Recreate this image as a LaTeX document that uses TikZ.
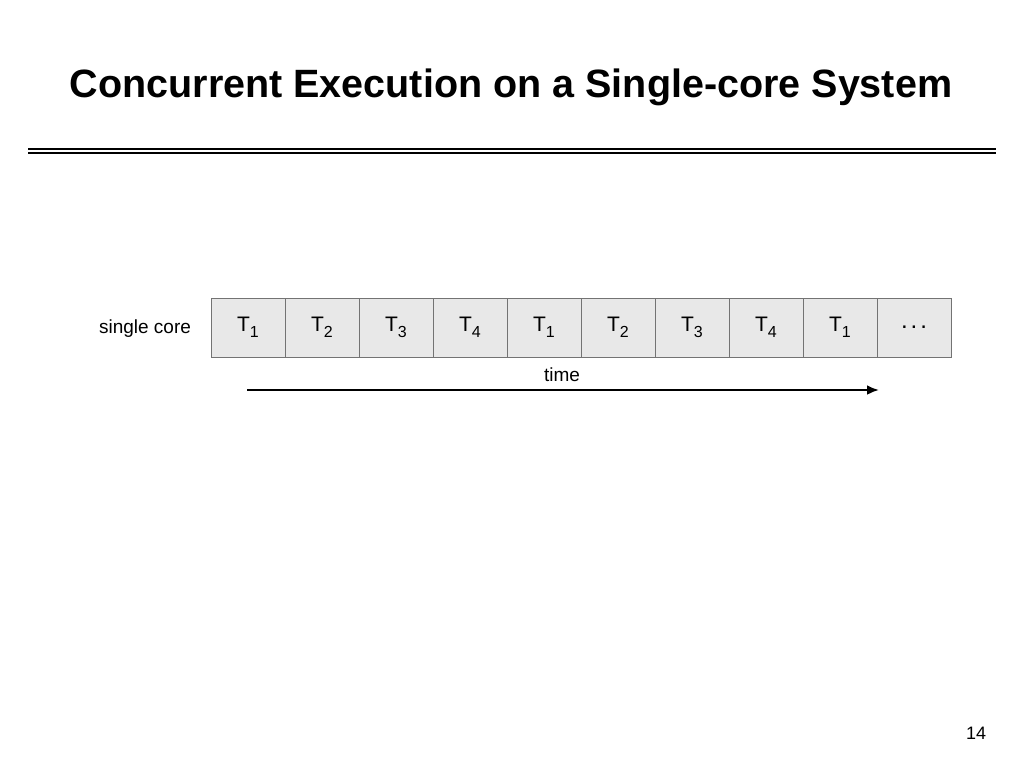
\documentclass[tikz,border=0pt]{standalone}
\usepackage{fontspec}
\setmainfont{Liberation Sans}
\usetikzlibrary{arrows.meta}

\newcommand{\tsk}[1]{T\raisebox{-6pt}{\fontsize{16}{16}\selectfont #1}}

\begin{document}
\begin{tikzpicture}[x=1pt,y=-1pt,
    slot/.style={draw=black!55,fill=black!9,minimum width=74pt,minimum height=59pt,inner sep=0pt,font=\fontsize{21}{22}\selectfont},
    lbl/.style={font=\fontsize{19}{21}\selectfont}]
      \useasboundingbox[fill=white] (0,0) rectangle (1024,768);
      \node[font=\bfseries\fontsize{39.5}{44}\selectfont] (title) at (511,87) {Concurrent Execution on a Single-core System};
      \draw[line width=2pt] (28,149) -- (996,149);
      \draw[line width=1.5pt] (28,153) -- (996,153);
      % time slots
      \foreach \lab [count=\i] in {\tsk1,\tsk2,\tsk3,\tsk4,\tsk1,\tsk2,\tsk3,\tsk4,\tsk1,{\fontsize{24}{24}\selectfont.\hspace{3pt}.\hspace{3pt}.}}
        \node[slot] (b\i) at (174+74*\i,327.5) {\lab};
      \node[lbl] (core) at (145,329) {single core};
      \node[lbl] (time) at (562,375) {time};
      \coordinate (t0) at (247,390);
      \coordinate (t1) at (879,390);
      \draw[line width=2.4pt,-{Latex[length=12pt,width=10pt]}] (t0) -- (t1);
      \node[font=\fontsize{18}{20}\selectfont] (page) at (976,733) {14};
    \end{tikzpicture}
\end{document}
